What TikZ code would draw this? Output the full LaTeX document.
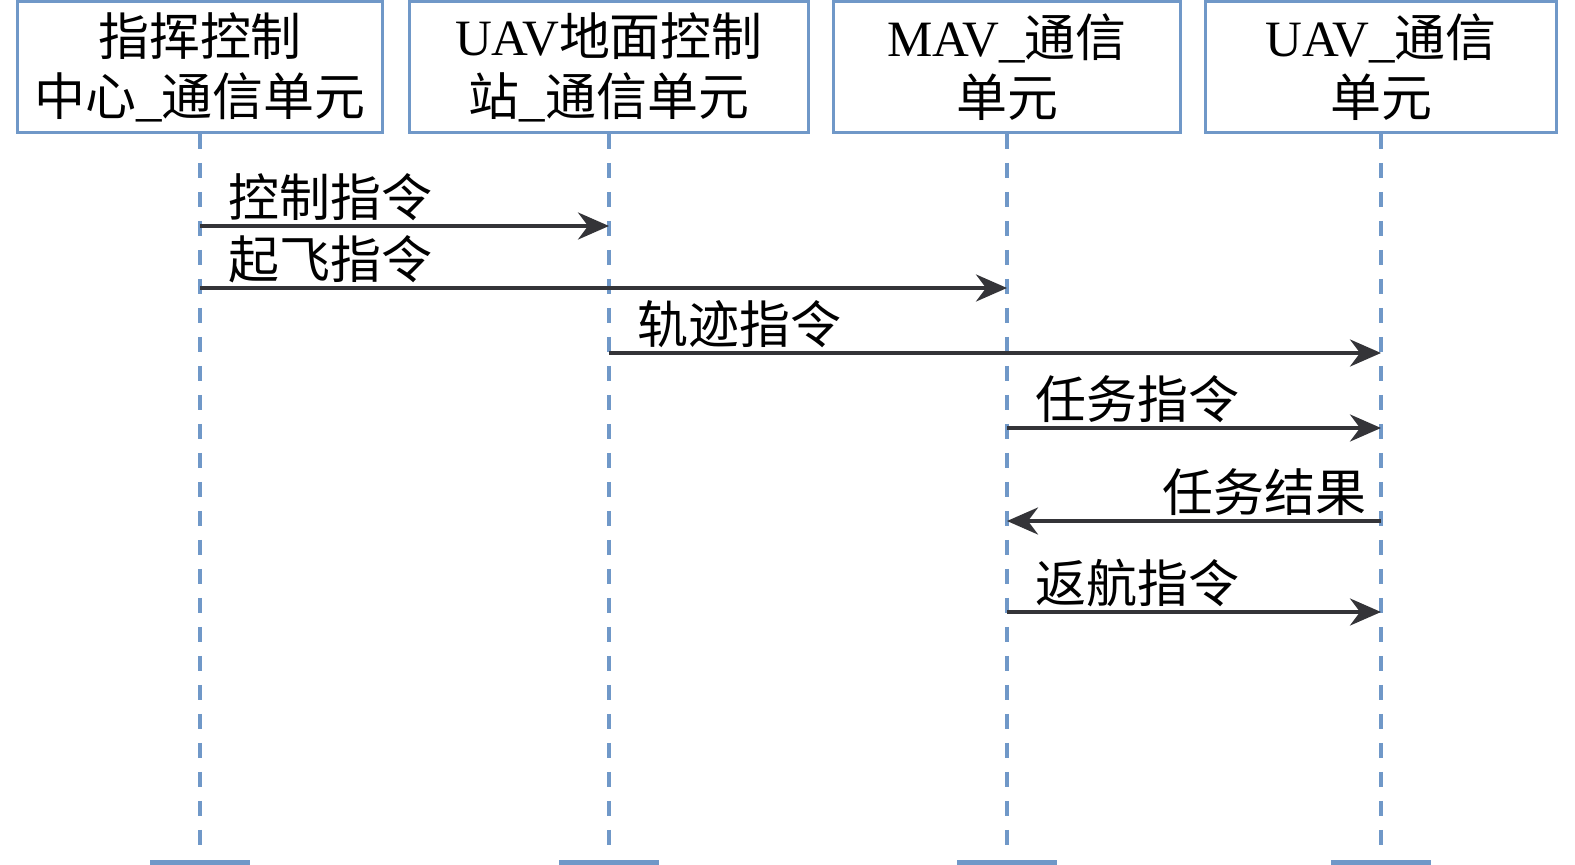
\documentclass[tikz,border=0pt]{standalone}
\usepackage{fontspec}
\setmainfont{Liberation Serif}
\newfontfamily\cjk{Noto Sans CJK SC}
\usetikzlibrary{arrows.meta,calc}
\definecolor{boxblue}{RGB}{112,152,200}
\definecolor{msggray}{RGB}{52,52,56}

\begin{document}
\begin{tikzpicture}[x=0.02cm,y=-0.02cm,->,>={Stealth[length=0.62cm,width=0.54cm,inset=0.2cm]},
	unit/.style={rectangle,draw=boxblue,line width=1.7pt,minimum height=2.62cm,inner sep=0pt,align=center,font=\fontsize{29}{34}\selectfont},
	lifeline/.style={-,draw=boxblue,line width=2pt,dash pattern=on 0.3cm off 0.28cm},
	endbar/.style={-,draw=boxblue,line width=4pt},
	msg/.style={color=msggray,line width=2.2pt},
	msg label/.style={inner sep=0pt,yshift=0.2cm,text=black,font=\cjk\fontsize{29}{34}\selectfont},
	lbl right/.style={anchor=base west,xshift=0.54cm},
	lbl left/.style={anchor=base east,xshift=-0.26cm}]

	\useasboundingbox (0,0) rectangle (1575,865);

	% communication units
	\node[unit,minimum width=7.3cm] (ctrl) at (200,67) {{\cjk 指挥控制}\\{\cjk 中心}\_{\cjk 通信单元}};
	\node[unit,minimum width=7.98cm] (gcs) at (609,67) {UAV{\cjk 地面控制}\\{\cjk 站}\_{\cjk 通信单元}};
	\node[unit,minimum width=6.96cm] (mav) at (1007,67) {MAV\_{\cjk 通信}\\{\cjk 单元}};
	\node[unit,minimum width=7.04cm] (uav) at (1381,67) {UAV\_{\cjk 通信}\\{\cjk 单元}};

	% lifelines
	\coordinate (bot) at (0,853);
	\foreach \n in {ctrl,gcs,mav,uav} {
		\draw[lifeline] (\n.south) -- (\n |- bot);
		\draw[endbar] ($(\n |- bot)+(-50,11)$) -- ++(100,0);
	}

	% message rows
	\coordinate (r1) at (0,226);
	\coordinate (r2) at (0,288);
	\coordinate (r3) at (0,353);
	\coordinate (r4) at (0,428);
	\coordinate (r5) at (0,521);
	\coordinate (r6) at (0,612);

	\path[msg,every edge/.style={draw,msg},every node/.style={msg label}]
	(ctrl |- r1) edge node[at start,lbl right] {控制指令} (gcs |- r1)
	(ctrl |- r2) edge node[at start,lbl right] {起飞指令} (mav |- r2)
	(gcs |- r3) edge node[at start,lbl right] {轨迹指令} (uav |- r3)
	(mav |- r4) edge node[at start,lbl right] {任务指令} (uav |- r4)
	(uav |- r5) edge node[at start,lbl left] {任务结果} (mav |- r5)
	(mav |- r6) edge node[at start,lbl right] {返航指令} (uav |- r6);

\end{tikzpicture}
\end{document}
